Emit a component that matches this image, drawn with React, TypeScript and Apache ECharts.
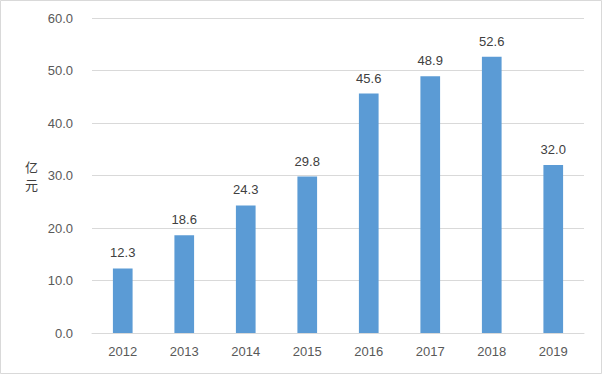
import React, { useEffect, useRef } from "react";
import * as echarts from "echarts";

const categories = ["2012", "2013", "2014", "2015", "2016", "2017", "2018", "2019"];
const values = [12.3, 18.6, 24.3, 29.8, 45.6, 48.9, 52.6, 32.0];
const yAxisName = "亿\n元";

export default function App() {
  const ref = useRef<HTMLDivElement>(null);
  useEffect(() => {
    const chart = echarts.init(ref.current!, null, { renderer: "svg" });
    chart.setOption({
      animation: false,
      backgroundColor: "#ffffff",
      textStyle: { fontFamily: "Liberation Sans, Noto Sans CJK SC, sans-serif" },
      graphic: [
        {
          type: "rect",
          shape: { x: 0.5, y: 0.5, width: 601, height: 373 },
          style: { fill: "none", stroke: "#d9d9d9", lineWidth: 1 },
          silent: true,
        },
      ],
      grid: { left: 92, right: 19, top: 18, bottom: 42 },
      xAxis: {
        type: "category",
        data: categories,
        axisLine: { lineStyle: { color: "#d9d9d9" } },
        axisTick: { show: false },
        axisLabel: { color: "#595959", fontSize: 13, margin: 12 },
      },
      yAxis: {
        type: "value",
        min: 0,
        max: 60,
        interval: 10,
        name: yAxisName,
        nameLocation: "middle",
        nameRotate: 0,
        nameGap: 54,
        nameTextStyle: { color: "#404040", fontSize: 13, lineHeight: 18, fontFamily: "Noto Sans CJK SC" },
        axisLine: { show: false },
        axisTick: { show: false },
        splitLine: { lineStyle: { color: "#d9d9d9" } },
        axisLabel: {
          color: "#595959",
          fontSize: 13,
          margin: 19,
          formatter: (v: number) => v.toFixed(1),
        },
      },
      series: [
        {
          type: "bar",
          data: values,
          barWidth: "32%",
          itemStyle: { color: "#5b9bd5" },
          label: {
            show: true,
            position: "top",
            distance: 9,
            color: "#404040",
            fontSize: 13,
            formatter: (p: any) => Number(p.value).toFixed(1),
          },
        },
      ],
    });
    return () => chart.dispose();
  }, []);
  return (
    <div
      ref={ref}
      style={{ position: "fixed", left: 0, top: 0, width: 603, height: 375 }}
    />
  );
}
